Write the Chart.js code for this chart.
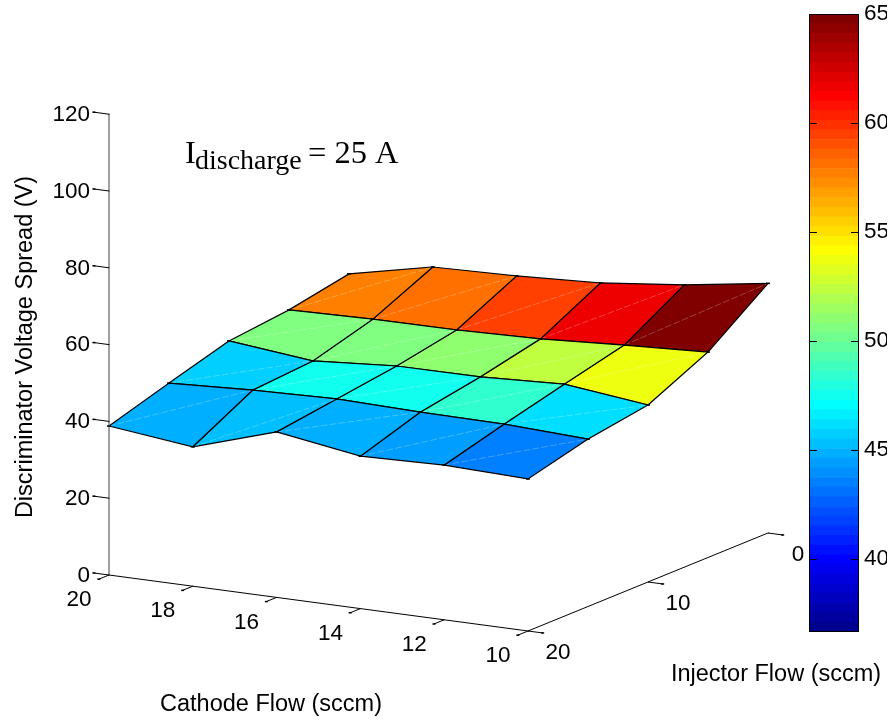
<!DOCTYPE html>
<html>
<head>
<meta charset="utf-8">
<title>Discriminator Voltage Spread</title>
<script src="https://cdn.jsdelivr.net/npm/chart.js@4"></script>
<style>
  html, body { margin: 0; padding: 0; background: #fff; overflow: hidden; }
  #surface { position: absolute; left: 0; top: 0; }
  #colorbar { position: absolute; left: 800px; top: 0; }
</style>
</head>
<body>
<canvas id="surface" width="894" height="721"></canvas>
<canvas id="colorbar" width="87" height="721"></canvas>
<script>
var cathodeFlow = [20, 18, 16, 14, 12, 10];
var injectorFlow = [20, 15, 10, 5, 0];
var spreadInjector20 = [38.8, 36.3, 43.1, 39.7, 40.3, 39.6];
var spreadInjector15 = [43.6, 44.7, 45.3, 44.8, 44.6, 43.6];
var spreadInjector10 = [48.2, 45.9, 47.5, 47.6, 48.6, 46.1];
var spreadInjector5 = [49.9, 50.4, 50.5, 51.1, 52.4, 53.5];
var spreadInjector0 = [52.9, 57.6, 58.2, 59.3, 61.7, 65.0];
var surface = [spreadInjector20, spreadInjector15, spreadInjector10, spreadInjector5, spreadInjector0];

var zTicks = [0, 20, 40, 60, 80, 100, 120];
var cathodeTicks = [20, 18, 16, 14, 12, 10];
var injectorTicks = [20, 10, 0];
var colorTicks = [40, 45, 50, 55, 60, 65];
var colorMin = 36.65, colorMax = 65;

var TICK_FONT = '22.5px "Liberation Sans"';
var TITLE_FONT = '23.5px "Liberation Sans"';

// view of the 3d axes, in page units
function project(c, i, z) {
  return {
    x: 109 + (20 - c) * 41.9 + (20 - i) * 12,
    y: 575 + (20 - c) * 5.6 - (20 - i) * 4.9 - z * 3.84
  };
}

// matlab jet(64)
function jetRamp(j) {
  if (j <= 0 || j >= 48) return 0;
  if (j <= 16) return j / 16;
  if (j < 32) return 1;
  return (48 - j) / 16;
}
function jetColor(k) {
  var r = Math.round(jetRamp(k - 24) * 255);
  var g = Math.round(jetRamp(k - 8) * 255);
  var b = Math.round(jetRamp(k + 8) * 255);
  return 'rgb(' + r + ',' + g + ',' + b + ')';
}
function colorFor(z) {
  var k = Math.floor((z - colorMin) / (colorMax - colorMin) * 64) + 1;
  return jetColor(Math.min(64, Math.max(1, k)));
}

function lineSet(points, color, width) {
  return {
    data: points, showLine: true, fill: false, tension: 0, pointRadius: 0,
    borderColor: color, borderWidth: width, borderCapStyle: 'round'
  };
}

var datasets = [];

// vertex dots go first so they sit on top
var vertexDots = [];
surface.forEach(function (row, r) {
  row.forEach(function (z, c) {
    vertexDots.push(project(cathodeFlow[c], injectorFlow[r], z));
  });
});
datasets.push({
  data: vertexDots, showLine: false, pointStyle: 'line', pointRadius: 2,
  pointBorderColor: '#000', pointBorderWidth: 1.5
});

// axes and ticks
var tickEnds = [];
zTicks.forEach(function (z) {
  var a = project(20, 20, z), b = project(20.36, 20, z);
  datasets.push(lineSet([a, b], '#000', 1));
  tickEnds.push(b);
});
cathodeTicks.forEach(function (c) {
  var a = project(c, 20, 0), b = project(c, 20.85, 0);
  datasets.push(lineSet([a, b], '#000', 1));
  tickEnds.push(b);
});
injectorTicks.forEach(function (i) {
  var a = project(10, i, 0), b = project(9.65, i, 0);
  datasets.push(lineSet([a, b], '#000', 1));
  tickEnds.push(b);
});
datasets.push({
  data: tickEnds, showLine: false, pointStyle: 'line', pointRadius: 1.5,
  pointBorderColor: '#000', pointBorderWidth: 1.5
});
datasets.push(lineSet([project(20, 20, 0), project(20, 20, 120)], '#808080', 1.5));
datasets.push(lineSet([project(20, 20, 0), project(10, 20, 0)], '#000', 1));
datasets.push(lineSet([project(10, 20, 0), project(10, 0, 0)], '#000', 1));

// faint seam across each cell, then the cell
for (var r = 0; r < injectorFlow.length - 1; r++) {
  for (var c = 0; c < cathodeFlow.length - 1; c++) {
    var p1 = project(cathodeFlow[c], injectorFlow[r], surface[r][c]);
    var p2 = project(cathodeFlow[c + 1], injectorFlow[r], surface[r][c + 1]);
    var p3 = project(cathodeFlow[c + 1], injectorFlow[r + 1], surface[r + 1][c + 1]);
    var p4 = project(cathodeFlow[c], injectorFlow[r + 1], surface[r + 1][c]);
    var seam = lineSet([p1, p3], 'rgba(255,255,255,0.25)', 1);
    seam.borderDash = [6, 3];
    datasets.push(seam);
    datasets.push({
      data: [p1, p2, p3, p4, p1], showLine: true, tension: 0, pointRadius: 0,
      fill: 'shape', backgroundColor: colorFor(surface[r + 1][c + 1]),
      borderColor: '#000', borderWidth: 1.2
    });
  }
}

var axisText = {
  id: 'axisText',
  afterDatasetsDraw: function (chart) {
    var ctx = chart.ctx, xs = chart.scales.x, ys = chart.scales.y;
    function put(text, x, y, align, font) {
      ctx.font = font || TICK_FONT;
      ctx.textAlign = align || 'center';
      ctx.textBaseline = 'middle';
      ctx.fillText(text, xs.getPixelForValue(x), ys.getPixelForValue(y));
    }
    ctx.save();
    ctx.fillStyle = '#000';
    zTicks.forEach(function (z) {
      var p = project(20, 20, z);
      put(String(z), p.x - 19, p.y + 0.5, 'right');
    });
    cathodeTicks.forEach(function (c) {
      var p = project(c, 20, 0);
      put(String(c), p.x - 30, p.y + 25);
    });
    injectorTicks.forEach(function (i) {
      var p = project(10, i, 0);
      put(String(i), p.x + 30, p.y + 21.5);
    });
    put('Cathode Flow (sccm)', 271, 705, 'center', TITLE_FONT);
    put('Injector Flow (sccm)', 776, 675, 'center', TITLE_FONT);

    ctx.save();
    ctx.translate(xs.getPixelForValue(26), ys.getPixelForValue(347));
    ctx.rotate(-Math.PI / 2);
    ctx.font = TITLE_FONT;
    ctx.textAlign = 'center';
    ctx.textBaseline = 'middle';
    ctx.fillText('Discriminator Voltage Spread (V)', 0, 0);
    ctx.restore();

    ctx.textBaseline = 'alphabetic';
    ctx.textAlign = 'left';
    ctx.font = '32.5px "Liberation Serif"';
    ctx.fillText('I', xs.getPixelForValue(185), ys.getPixelForValue(163));
    ctx.font = '28px "Liberation Serif"';
    ctx.fillText('discharge', xs.getPixelForValue(195), ys.getPixelForValue(169));
    ctx.font = '32.5px "Liberation Serif"';
    ctx.fillText('= 25 A', xs.getPixelForValue(308), ys.getPixelForValue(163));
    ctx.restore();
  }
};

new Chart('surface', {
  type: 'scatter',
  data: { datasets: datasets },
  options: {
    responsive: false,
    animation: false,
    layout: { padding: 0, autoPadding: false },
    plugins: { legend: { display: false }, tooltip: { enabled: false } },
    scales: {
      x: { type: 'linear', min: 0, max: 894, display: false },
      y: { type: 'linear', min: 0, max: 721, reverse: true, display: false }
    }
  },
  plugins: [axisText]
});

// colorbar
var colorSteps = [];
for (var k = 1; k <= 64; k++) {
  colorSteps.push({
    data: [[colorMin + (k - 1) * (colorMax - colorMin) / 64, colorMin + k * (colorMax - colorMin) / 64]],
    backgroundColor: jetColor(k),
    barPercentage: 1,
    categoryPercentage: 1
  });
}

var colorbarBox = {
  id: 'colorbarBox',
  afterDatasetsDraw: function (chart) {
    var ctx = chart.ctx, a = chart.chartArea, ys = chart.scales.y;
    ctx.save();
    ctx.strokeStyle = '#000';
    ctx.lineWidth = 1;
    ctx.strokeRect(a.left + 0.5, a.top + 0.5, a.right - a.left - 1, a.bottom - a.top - 1);
    colorTicks.forEach(function (t) {
      var y = Math.round(ys.getPixelForValue(t)) + 0.5;
      ctx.beginPath();
      ctx.moveTo(a.left, y); ctx.lineTo(a.left + 8, y);
      ctx.moveTo(a.right - 8, y); ctx.lineTo(a.right, y);
      ctx.stroke();
    });
    ctx.restore();
  }
};

new Chart('colorbar', {
  type: 'bar',
  data: { labels: [''], datasets: colorSteps },
  options: {
    responsive: false,
    animation: false,
    layout: { padding: { left: 9, top: 14, bottom: 89, right: 0 }, autoPadding: false },
    plugins: { legend: { display: false }, tooltip: { enabled: false } },
    datasets: { bar: { grouped: false } },
    scales: {
      x: { display: false },
      y: {
        position: 'right',
        min: colorMin,
        max: colorMax,
        afterBuildTicks: function (axis) {
          axis.ticks = colorTicks.map(function (v) { return { value: v }; });
        },
        afterFit: function (axis) {
          axis.width = 28;
          axis.paddingTop = 0;
          axis.paddingBottom = 0;
        },
        grid: { display: false, drawTicks: false },
        border: { display: false },
        ticks: { color: '#000', padding: 5, font: { family: 'Liberation Sans', size: 22.5 } }
      }
    }
  },
  plugins: [colorbarBox]
});
</script>
</body>
</html>
